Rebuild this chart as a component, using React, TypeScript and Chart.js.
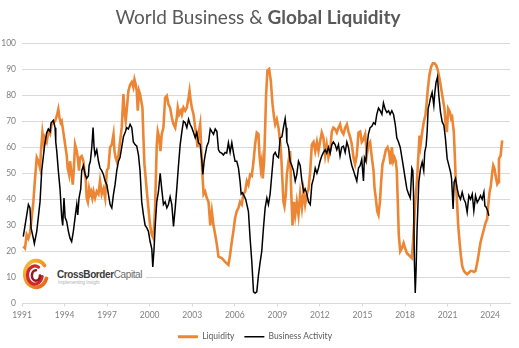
import React, { useEffect, useRef } from "react";
import { Chart, registerables } from "chart.js";

Chart.register(...registerables);

const TITLE_NORMAL = "World Business & ";
const TITLE_BOLD = "Global Liquidity";
const SERIES_LABELS = ["Liquidity", "Business Activity"];
const X_TICK_YEARS = [1991, 1994, 1997, 2000, 2003, 2006, 2009, 2012, 2015, 2018, 2021, 2024];
const X_MIN = 1991;
const X_MAX = 2025.4;
const Y_TICKS_STEP = 10;

const liquidityYears = [
  1991.09, 1991.21, 1991.33, 1991.45, 1991.56, 1991.68, 1991.8, 1991.92, 1992.04, 1992.15, 1992.27, 1992.34,
  1992.44, 1992.55, 1992.62, 1992.74, 1992.86, 1992.98, 1993.09, 1993.21, 1993.33, 1993.45, 1993.56, 1993.64,
  1993.73, 1993.8, 1993.92, 1994.04, 1994.15, 1994.22, 1994.32, 1994.39, 1994.5, 1994.58, 1994.65, 1994.74,
  1994.86, 1994.93, 1995.02, 1995.09, 1995.21, 1995.33, 1995.4, 1995.49, 1995.56, 1995.64, 1995.73, 1995.8,
  1995.87, 1995.96, 1996.04, 1996.15, 1996.27, 1996.39, 1996.5, 1996.62, 1996.74, 1996.86, 1996.98, 1997.09,
  1997.21, 1997.33, 1997.45, 1997.52, 1997.6, 1997.68, 1997.8, 1997.91, 1998.03, 1998.15, 1998.22, 1998.31,
  1998.38, 1998.5, 1998.62, 1998.74, 1998.85, 1998.93, 1999.02, 1999.09, 1999.16, 1999.25, 1999.32, 1999.4,
  1999.49, 1999.56, 1999.63, 1999.72, 1999.8, 1999.91, 2000.03, 2000.15, 2000.27, 2000.38, 2000.5, 2000.57,
  2000.67, 2000.76, 2000.85, 2000.97, 2001.09, 2001.21, 2001.32, 2001.44, 2001.56, 2001.68, 2001.8, 2001.91,
  2001.98, 2002.08, 2002.2, 2002.27, 2002.38, 2002.5, 2002.62, 2002.74, 2002.81, 2002.88, 2002.97, 2003.09,
  2003.21, 2003.28, 2003.37, 2003.44, 2003.56, 2003.63, 2003.72, 2003.8, 2003.91, 2004.03, 2004.15, 2004.27,
  2004.38, 2004.5, 2004.62, 2004.74, 2004.85, 2005.08, 2005.32, 2005.55, 2005.67, 2005.79, 2005.9, 2006.02,
  2006.14, 2006.26, 2006.37, 2006.49, 2006.61, 2006.73, 2006.85, 2006.96, 2007.08, 2007.2, 2007.32, 2007.43,
  2007.55, 2007.67, 2007.74, 2007.83, 2007.9, 2007.97, 2008.07, 2008.14, 2008.21, 2008.3, 2008.42, 2008.54,
  2008.66, 2008.77, 2008.85, 2008.96, 2009.08, 2009.2, 2009.27, 2009.36, 2009.43, 2009.5, 2009.6, 2009.67,
  2009.79, 2009.9, 2009.97, 2010.07, 2010.16, 2010.26, 2010.37, 2010.49, 2010.61, 2010.73, 2010.85, 2010.96,
  2011.08, 2011.2, 2011.32, 2011.43, 2011.55, 2011.67, 2011.79, 2011.9, 2012.01, 2012.13, 2012.25, 2012.37,
  2012.48, 2012.6, 2012.72, 2012.84, 2012.95, 2013.07, 2013.19, 2013.31, 2013.42, 2013.54, 2013.66, 2013.78,
  2013.9, 2014.01, 2014.13, 2014.25, 2014.37, 2014.48, 2014.6, 2014.72, 2014.84, 2014.95, 2015.07, 2015.19,
  2015.31, 2015.42, 2015.54, 2015.66, 2015.78, 2015.85, 2015.94, 2016.04, 2016.13, 2016.23, 2016.32, 2016.41,
  2016.53, 2016.65, 2016.77, 2016.88, 2016.98, 2017.07, 2017.17, 2017.26, 2017.35, 2017.42, 2017.49, 2017.56,
  2017.66, 2017.78, 2017.9, 2018.01, 2018.13, 2018.25, 2018.37, 2018.48, 2018.55, 2018.65, 2018.72, 2018.84,
  2018.97, 2019.02, 2019.09, 2019.21, 2019.32, 2019.44, 2019.51, 2019.61, 2019.72, 2019.84, 2019.96, 2020.08,
  2020.19, 2020.31, 2020.43, 2020.55, 2020.66, 2020.78, 2020.85, 2020.95, 2021.04, 2021.16, 2021.25, 2021.32,
  2021.44, 2021.51, 2021.58, 2021.68, 2021.75, 2021.85, 2021.94, 2022.03, 2022.15, 2022.26, 2022.38, 2022.5,
  2022.62, 2022.74, 2022.85, 2022.97, 2023.09, 2023.21, 2023.32, 2023.44, 2023.56, 2023.68, 2023.79, 2023.86,
  2023.96, 2024.05, 2024.15, 2024.22, 2024.31, 2024.38, 2024.5, 2024.57, 2024.62, 2024.74, 2024.81, 2024.85,
];
const liquidityValues = [
  21.9, 21.2, 26.4, 25, 27, 32.8, 39, 48, 56, 54.6, 52, 58.5,
  65.6, 61, 63.6, 62, 66, 65, 68.8, 69.4, 70, 72, 74.6, 71.4,
  69.4, 70, 65.6, 61, 57, 52, 49.5, 54.6, 49.5, 45.6, 51, 61,
  58.5, 56, 51, 56, 56.6, 54.6, 51, 48, 40.5, 39, 44, 42,
  43, 40.5, 43, 40.5, 43, 42, 47, 42, 44, 40.5, 51, 52,
  60, 61, 65, 58.5, 56, 54.6, 57, 62, 67.5, 80.4, 74, 70,
  74, 81.6, 84, 85, 83, 86, 84, 81.6, 74, 81.6, 80.4, 77.8,
  75.2, 63.6, 53.4, 48, 43, 36.7, 30, 26.4, 25, 36.7, 61, 66,
  63.6, 58.5, 65, 67.5, 79, 79.7, 76.5, 75.2, 71.4, 68.8, 67.5, 71.4,
  75.2, 72.6, 74, 72.6, 75.2, 74, 75.2, 79, 81.6, 78.4, 75.2, 72.6,
  67.5, 65, 60, 65, 68.8, 60, 49.5, 42, 43, 40.5, 39, 30,
  35.4, 30, 26.4, 22.5, 18, 17.4, 16, 14.8, 18.7, 23.8, 27.7, 32.8,
  35.4, 36.7, 39, 38, 42, 43, 47, 45.6, 49.5, 49, 54.6, 61,
  65.6, 65, 57, 52, 54.6, 48, 54.6, 67.5, 80.4, 89.4, 90, 85.5,
  76.5, 71.4, 68.8, 70.7, 67.5, 62, 57, 47, 39, 37.3, 42, 49.5,
  54.6, 58.5, 44, 30, 39, 34, 39, 34, 42, 36.7, 43, 38,
  42, 44, 51, 61, 62, 58.5, 62, 58.5, 62, 65.6, 63.6, 57,
  61, 56, 58.5, 66, 67.5, 67, 65.6, 67.5, 68.8, 66, 65, 67.5,
  68.8, 66, 64, 61, 56, 53.4, 57, 65.6, 66, 62, 63, 65,
  57, 61, 62, 56, 51, 44.4, 40.5, 35.4, 34, 39, 47, 53.4,
  56, 59, 60, 58, 53.4, 60, 54.6, 56, 54.6, 51, 39, 26.4,
  20, 21.2, 23.2, 21.2, 19.3, 18.7, 18, 17.4, 22.5, 31.5, 39, 47,
  59.4, 64.5, 60.7, 65.8, 69.7, 72.3, 76.1, 82.5, 87.7, 90.9, 92.2, 92.2,
  91.5, 89.6, 86.4, 82.5, 78.7, 74.8, 69.7, 65.8, 74.8, 73.5, 71, 71.6,
  65.8, 56.8, 46.6, 37.6, 29.8, 23.4, 18.3, 14.4, 12.5, 11.8, 11.2, 11.8,
  12.5, 12.5, 12.1, 12.5, 15.7, 19.6, 23.4, 26, 28.5, 31, 32.4, 37.5,
  42.7, 45.3, 50.4, 53, 51.7, 49.1, 45.9, 46.6, 55.5, 56.8, 60.7, 62.6,
];

const businessYears = [
  1991.09, 1991.45, 1991.56, 1991.64, 1991.8, 1991.87, 1992.04, 1992.27, 1992.39, 1992.58, 1992.74, 1992.86,
  1992.98, 1993.05, 1993.21, 1993.33, 1993.38, 1993.45, 1993.56, 1993.68, 1993.8, 1993.87, 1993.96, 1994.04,
  1994.15, 1994.27, 1994.39, 1994.5, 1994.62, 1994.74, 1994.86, 1994.93, 1995.02, 1995.14, 1995.21, 1995.33,
  1995.45, 1995.56, 1995.68, 1995.73, 1995.82, 1995.92, 1996.01, 1996.08, 1996.15, 1996.27, 1996.39, 1996.5,
  1996.62, 1996.74, 1996.86, 1996.98, 1997.09, 1997.21, 1997.33, 1997.45, 1997.56, 1997.68, 1997.8, 1997.91,
  1998.03, 1998.15, 1998.27, 1998.38, 1998.5, 1998.62, 1998.74, 1998.85, 1998.97, 1999.09, 1999.21, 1999.32,
  1999.44, 1999.56, 1999.68, 1999.8, 1999.91, 2000.03, 2000.15, 2000.22, 2000.31, 2000.38, 2000.5, 2000.62,
  2000.74, 2000.85, 2000.97, 2001.09, 2001.21, 2001.32, 2001.44, 2001.56, 2001.68, 2001.8, 2001.91, 2002.03,
  2002.15, 2002.27, 2002.38, 2002.5, 2002.62, 2002.74, 2002.85, 2002.97, 2003.09, 2003.21, 2003.32, 2003.44,
  2003.56, 2003.68, 2003.75, 2003.84, 2003.91, 2004.03, 2004.15, 2004.27, 2004.38, 2004.5, 2004.62, 2004.74,
  2004.85, 2004.96, 2005.08, 2005.2, 2005.32, 2005.43, 2005.55, 2005.67, 2005.79, 2005.9, 2006.02, 2006.14,
  2006.26, 2006.37, 2006.45, 2006.54, 2006.68, 2006.77, 2006.85, 2006.96, 2007.08, 2007.2, 2007.32, 2007.43,
  2007.55, 2007.67, 2007.79, 2007.9, 2008.02, 2008.14, 2008.26, 2008.37, 2008.49, 2008.61, 2008.73, 2008.85,
  2008.96, 2009.08, 2009.2, 2009.32, 2009.43, 2009.55, 2009.62, 2009.67, 2009.79, 2009.9, 2010.02, 2010.14,
  2010.26, 2010.37, 2010.49, 2010.61, 2010.73, 2010.85, 2010.96, 2011.08, 2011.2, 2011.32, 2011.43, 2011.55,
  2011.67, 2011.79, 2011.9, 2012.01, 2012.13, 2012.25, 2012.37, 2012.48, 2012.6, 2012.72, 2012.84, 2012.95,
  2013.07, 2013.19, 2013.31, 2013.42, 2013.54, 2013.66, 2013.78, 2013.9, 2014.01, 2014.13, 2014.25, 2014.37,
  2014.48, 2014.6, 2014.72, 2014.84, 2014.95, 2015.07, 2015.14, 2015.24, 2015.31, 2015.42, 2015.54, 2015.66,
  2015.78, 2015.9, 2016.01, 2016.13, 2016.25, 2016.37, 2016.48, 2016.6, 2016.72, 2016.84, 2016.95, 2017.07,
  2017.19, 2017.31, 2017.42, 2017.54, 2017.66, 2017.78, 2017.9, 2018.01, 2018.13, 2018.25, 2018.37, 2018.48,
  2018.55, 2018.6, 2018.66, 2018.72, 2018.78, 2018.85, 2018.97, 2019.09, 2019.21, 2019.32, 2019.39, 2019.49,
  2019.56, 2019.63, 2019.72, 2019.79, 2019.91, 2020.03, 2020.1, 2020.19, 2020.29, 2020.38, 2020.5, 2020.62,
  2020.74, 2020.85, 2020.97, 2021.09, 2021.21, 2021.28, 2021.32, 2021.39, 2021.46, 2021.56, 2021.68, 2021.79,
  2021.91, 2022.03, 2022.15, 2022.26, 2022.38, 2022.5, 2022.62, 2022.74, 2022.85, 2022.97, 2023.09, 2023.21,
  2023.32, 2023.44, 2023.56, 2023.63, 2023.72, 2023.82, 2023.91,
];
const businessValues = [
  25.7, 38, 36.7, 29, 25, 23, 27.7, 39, 51, 60, 65.6, 67,
  66, 69.4, 70.3, 67.5, 62, 58.5, 51, 44, 33, 30, 40.5, 33,
  31.5, 27.7, 25, 23.8, 27.7, 33, 38, 34, 40.5, 44, 51, 53,
  49.5, 48, 49, 53, 54.6, 60, 67.5, 60, 57, 59, 54.6, 52,
  51, 49.5, 47, 45.6, 42, 38, 36.7, 42, 45.6, 51, 54.6, 56,
  60, 64, 65.6, 67.5, 67, 68.8, 67.5, 62, 61, 60.4, 57, 51,
  39, 34, 30, 29, 27.7, 23.8, 21, 14, 21, 29, 39, 43,
  50, 44, 38, 39, 36.7, 38, 41, 38, 29.6, 36.7, 44, 53,
  61, 66, 70, 69.4, 67.5, 70.7, 68.8, 67.5, 65.6, 63.6, 65.6, 61.7,
  61, 54.6, 49.5, 54.6, 57, 60.4, 62, 67, 66, 65, 67, 66,
  59, 58, 57.7, 57, 58, 57.7, 61.7, 58, 61.7, 58, 54.6, 54.6,
  52, 47, 42, 42.5, 41, 40, 38, 35.4, 25, 16, 4.5, 4,
  4.5, 11, 16, 20, 29, 36.7, 40.5, 38, 42, 49.5, 57, 58,
  56.6, 56, 63.6, 64, 67.5, 71, 67.5, 62, 60, 54.6, 53, 51,
  47, 49.5, 54.6, 53, 47, 43, 44, 42, 39, 38, 45.6, 48,
  52, 50, 52, 54.6, 56.6, 58, 59, 57.7, 60, 57.7, 61, 62,
  61, 59, 61, 56.6, 60, 60.4, 58, 62, 60, 56, 53, 51,
  49, 47, 52, 53, 55.3, 47, 56, 54.6, 60, 65, 67.5, 68,
  69.4, 68.8, 72.6, 75, 74, 72.6, 77, 74.6, 73.3, 74, 72.6, 74,
  72.6, 68.8, 63.6, 62, 60, 56, 52, 48, 44, 42, 40.5, 52,
  51, 42, 16, 4, 13, 28.6, 46.6, 51.7, 54.3, 51, 58, 60.7,
  66, 74.8, 76.8, 78.7, 81, 76, 81, 85, 87, 80, 73.5, 69.7,
  68.4, 63.3, 55.6, 53, 50.4, 48, 44, 36.3, 46.6, 48, 44, 41.4,
  40, 42.7, 40, 38.8, 35, 41.4, 40, 42, 35.6, 41.4, 38.8, 40,
  41.4, 40, 42.7, 37.5, 37, 35.6, 33.7,
];

const ORANGE = "#EC8634";
const BLACK = "#000000";
const GRID = "#d9d9d9";
const TICK_COLOR = "#7f7f7f";
const TEXT_COLOR = "#595959";
const FONT = "Lato, 'Open Sans', sans-serif";

function Logo() {
  return (
    <div
      style={{
        position: "absolute",
        left: 22,
        top: 257,
        width: 124,
        height: 37,
        background: "#ffffff",
      }}
    >
      <svg width="28" height="34" viewBox="0 0 26 32" style={{ position: "absolute", left: 1, top: 1 }}>
        <defs>
          <linearGradient id="cbgrad" x1="0" y1="0" x2="1" y2="1">
            <stop offset="0" stopColor="#F8C13A" />
            <stop offset="0.6" stopColor="#EE8A22" />
            <stop offset="1" stopColor="#E2601C" />
          </linearGradient>
        </defs>
        <path d="M20 6.96 A10.5 12.5 0 1 0 21.87 19.3" fill="none" stroke="url(#cbgrad)" strokeWidth="3.6" strokeLinecap="round" />
        <path d="M14.5 8.64 A7 8.5 0 1 0 17.89 17.48" fill="none" stroke="#D2262E" strokeWidth="3" strokeLinecap="round" />
        <path d="M12 11.5 A3.8 5 0 1 0 15.8 16.5" fill="none" stroke="#8E1B20" strokeWidth="2.4" strokeLinecap="round" />
      </svg>
      <div
        style={{
          position: "absolute",
          left: 35,
          top: 12,
          whiteSpace: "nowrap",
          fontFamily: "'Liberation Sans', Arial, sans-serif",
          fontSize: 10,
          lineHeight: "11px",
          letterSpacing: "-0.4px",
          color: "#3a3a3a",
        }}
      >
        <span style={{ fontWeight: 700 }}>CrossBorder</span>
        <span style={{ fontWeight: 400, color: "#6b6b6b" }}>Capital</span>
      </div>
      <div
        style={{
          position: "absolute",
          left: 36,
          top: 23,
          whiteSpace: "nowrap",
          fontFamily: "'Liberation Sans', Arial, sans-serif",
          fontSize: 4.5,
          lineHeight: "5px",
          color: "#b0b0b0",
        }}
      >
        Implementing Insight
      </div>
    </div>
  );
}

export default function App() {
  const canvasRef = useRef<HTMLCanvasElement | null>(null);

  useEffect(() => {
    const canvas = canvasRef.current;
    if (!canvas) return;
    const liquidityData = liquidityYears.map((x, i) => ({ x, y: liquidityValues[i] }));
    const businessData = businessYears.map((x, i) => ({ x, y: businessValues[i] }));

    const chart = new Chart(canvas, {
      type: "line",
      data: {
        datasets: [
          {
            label: SERIES_LABELS[0],
            data: liquidityData,
            borderColor: ORANGE,
            backgroundColor: ORANGE,
            borderWidth: 2.6,
            pointRadius: 0,
            tension: 0,
            order: 1,
          },
          {
            label: SERIES_LABELS[1],
            data: businessData,
            borderColor: BLACK,
            backgroundColor: BLACK,
            borderWidth: 1.5,
            pointRadius: 0,
            tension: 0,
            order: 0,
          },
        ],
      },
      options: {
        animation: false,
        responsive: false,
        maintainAspectRatio: false,
        layout: { padding: { left: 0, right: 9, top: 43, bottom: -3 } },
        scales: {
          x: {
            type: "linear",
            min: X_MIN,
            max: X_MAX,
            afterBuildTicks: (scale: any) => {
              scale.ticks = X_TICK_YEARS.map((v) => ({ value: v }));
            },
            afterFit: (scale: any) => {
              scale.height = 19;
            },
            ticks: {
              autoSkip: false,
              maxRotation: 0,
              padding: 4,
              color: TICK_COLOR,
              font: { family: FONT, size: 8.5 },
              callback: (v: any) => String(v),
            },
            grid: {
              drawOnChartArea: false,
              drawTicks: true,
              tickLength: 3,
              color: GRID,
            },
            border: { display: true, color: GRID, width: 1 },
          },
          y: {
            min: 0,
            max: 100,
            afterFit: (scale: any) => {
              scale.width = 22;
            },
            ticks: {
              stepSize: Y_TICKS_STEP,
              padding: 6,
              color: TICK_COLOR,
              font: { family: FONT, size: 8.5 },
            },
            grid: { color: GRID, drawTicks: false, lineWidth: 1 },
            border: { display: false },
          },
        },
        plugins: {
          title: { display: false },
          tooltip: { enabled: false },
          legend: {
            display: true,
            position: "bottom",
            labels: {
              usePointStyle: true,
              pointStyleWidth: 20,
              boxHeight: 8,
              padding: 10,
              color: TEXT_COLOR,
              font: { family: FONT, size: 8.5 },
              generateLabels: (c: any) =>
                c.data.datasets.map((d: any, i: number) => ({
                  text: d.label,
                  fillStyle: d.borderColor,
                  strokeStyle: d.borderColor,
                  lineWidth: i === 0 ? 3 : 1.5,
                  pointStyle: "line",
                  hidden: false,
                  datasetIndex: i,
                  fontColor: TEXT_COLOR,
                })),
            },
          },
        },
      },
    } as any);

    return () => {
      chart.destroy();
    };
  }, []);

  return (
    <div
      style={{
        position: "absolute",
        left: 0,
        top: 0,
        width: 519,
        height: 348,
        background: "#ffffff",
        overflow: "hidden",
      }}
    >
      <canvas ref={canvasRef} width={519} height={348} style={{ display: "block", width: 519, height: 348 }} />
      <div
        style={{
          position: "absolute",
          left: 0,
          top: 5,
          width: 516,
          textAlign: "center",
          fontFamily: FONT,
          fontSize: 19,
          lineHeight: "24px",
          color: TEXT_COLOR,
          whiteSpace: "nowrap",
        }}
      >
        <span style={{ fontWeight: 400 }}>{TITLE_NORMAL}</span>
        <span style={{ fontWeight: 700 }}>{TITLE_BOLD}</span>
      </div>
      <Logo />
    </div>
  );
}
